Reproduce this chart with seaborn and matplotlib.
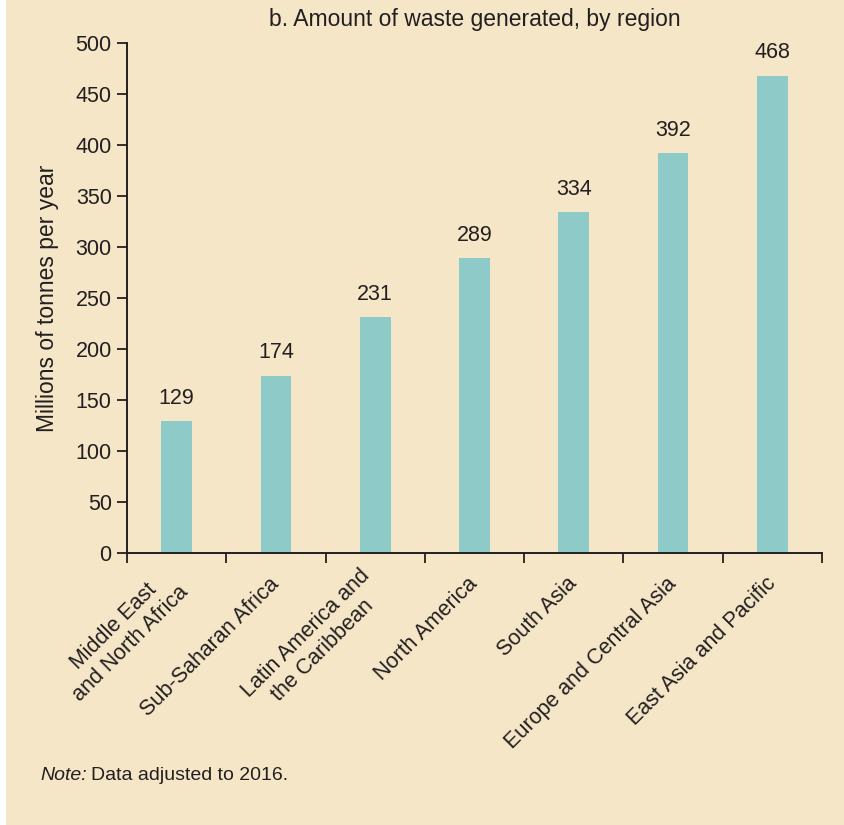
import matplotlib
matplotlib.use("Agg")
import matplotlib.pyplot as plt
import seaborn as sns
import pandas as pd
from matplotlib.patches import Rectangle

regions = [
    "Middle East\nand North Africa",
    "Sub-Saharan Africa",
    "Latin America and\nthe Caribbean",
    "North America",
    "South Asia",
    "Europe and Central Asia",
    "East Asia and Pacific",
]
waste = [129, 174, 231, 289, 334, 392, 468]
y_ticks = [0, 50, 100, 150, 200, 250, 300, 350, 400, 450, 500]

bg = "#F5E6C8"
bar_color = "#8ECAC7"
ink = "#231F20"

sns.set_theme(style="white")
plt.rcParams["font.family"] = ["Liberation Sans", "DejaVu Sans"]
plt.rcParams["text.color"] = ink
plt.rcParams["axes.labelcolor"] = ink
plt.rcParams["xtick.color"] = ink
plt.rcParams["ytick.color"] = ink
plt.rcParams["xtick.bottom"] = True
plt.rcParams["ytick.left"] = True

fig = plt.figure(figsize=(8.44, 8.25), dpi=100)
fig.patch.set_facecolor("white")
fig.patches.append(Rectangle((6 / 844, 0), 1, 1, transform=fig.transFigure,
                             facecolor=bg, edgecolor="none", zorder=-10))

ax = fig.add_axes([127 / 844, 1 - 553 / 825, (822 - 127) / 844, (553 - 43) / 825])
ax.set_facecolor(bg)

df = pd.DataFrame({"region": regions, "waste": waste})
sns.barplot(data=df, x="region", y="waste", color=bar_color, width=0.31,
            saturation=1, ax=ax)
for p in ax.patches:
    p.set_edgecolor("none")

ax.bar_label(ax.containers[0], labels=[str(v) for v in waste], padding=9,
             fontsize=15.5, color=ink)

ax.set_xlim(-0.5, len(regions) - 0.5)
ax.set_ylim(0, 500)
ax.set_yticks(y_ticks)
ax.set_yticklabels([str(t) for t in y_ticks], fontsize=15.5)

# category labels at bar centers, tick marks at boundaries
ax.set_xticks(range(len(regions)))
ax.set_xticklabels(regions, fontsize=15.5, rotation=45, ha="right",
                   va="center", rotation_mode="anchor", multialignment="center")
ax.tick_params(axis="x", which="major", bottom=True, length=0, pad=20)
ax.set_xticks([i - 0.5 for i in range(len(regions) + 1)], minor=True)
ax.tick_params(axis="x", which="minor", bottom=True, length=7, width=1.3,
               direction="out", color=ink)
ax.tick_params(axis="y", left=True, length=7, width=1.3, direction="out",
               color=ink, pad=4)

for side in ["top", "right"]:
    ax.spines[side].set_visible(False)
for side in ["left", "bottom"]:
    ax.spines[side].set_color(ink)
    ax.spines[side].set_linewidth(1.4)

ax.set_xlabel("")
ax.set_ylabel("Millions of tonnes per year", fontsize=16.5, labelpad=12)
ax.set_title("b. Amount of waste generated, by region", fontsize=16.5,
             color=ink, pad=12)

# note at the bottom
note_it = fig.text(40 / 844, 1 - 776 / 825, "Note:", fontsize=14, style="italic",
                   va="center", color=ink)
fig.canvas.draw()
bb = note_it.get_window_extent()
fig.text(bb.x1 / fig.bbox.width + 4 / 844, 1 - 776 / 825, "Data adjusted to 2016.",
         fontsize=14, va="center", color=ink)

fig.savefig("out.png", dpi=100, facecolor=fig.get_facecolor())
